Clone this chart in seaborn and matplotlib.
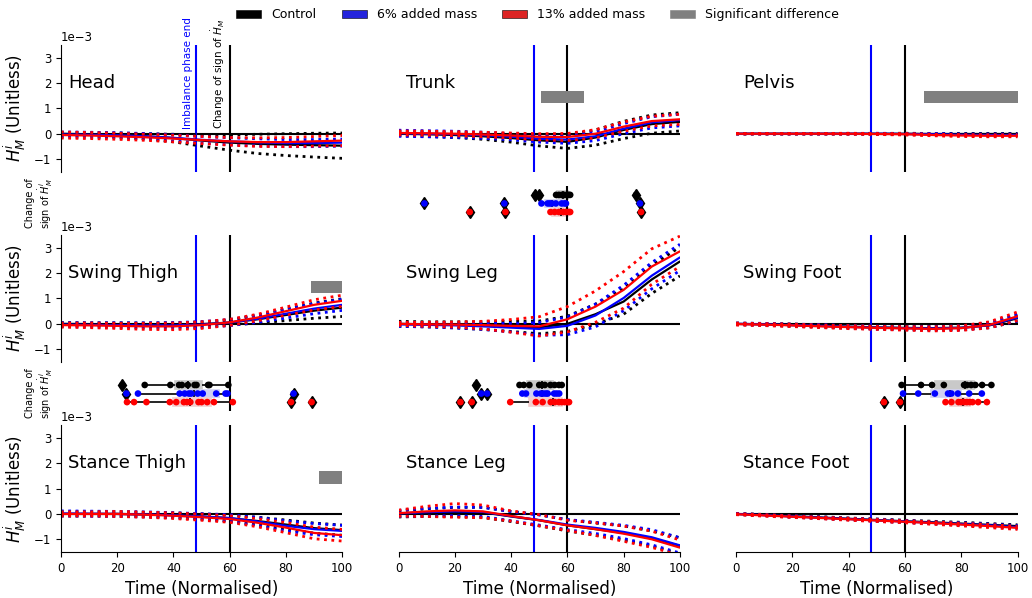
import numpy as np
import pandas as pd
import matplotlib
matplotlib.use("Agg")
import matplotlib.pyplot as plt
from matplotlib.patches import Patch
import seaborn as sns

# -------------------
# DATA  (H values in units of 1e-3, one list per group: Control, 6%, 13%)
# -------------------
time = [0, 10, 20, 30, 40, 50, 60, 70, 80, 90, 100]
groups = ["Control", "6% added mass", "13% added mass"]
colours = ["black", "blue", "red"]
box_colours = ["#c9c9c9", "#d0d0f2", "#f2cfcf"]
legend_colours = ["black", "#2323dd", "#dd2323", "grey"]

panel_names = ["Head", "Trunk", "Pelvis",
               "Swing Thigh", "Swing Leg", "Swing Foot",
               "Stance Thigh", "Stance Leg", "Stance Foot"]

head_mean = [
    [0.00, -0.02, -0.05, -0.10, -0.17, -0.27, -0.35, -0.40, -0.43, -0.45, -0.47],
    [-0.03, -0.04, -0.06, -0.10, -0.16, -0.24, -0.30, -0.34, -0.37, -0.37, -0.35],
    [-0.05, -0.07, -0.10, -0.14, -0.19, -0.25, -0.30, -0.33, -0.33, -0.30, -0.27],
]
head_sd = [
    [0.05, 0.06, 0.08, 0.10, 0.15, 0.22, 0.30, 0.38, 0.43, 0.47, 0.50],
    [0.10, 0.10, 0.10, 0.11, 0.12, 0.13, 0.14, 0.14, 0.14, 0.14, 0.14],
    [0.12, 0.12, 0.12, 0.12, 0.13, 0.14, 0.15, 0.17, 0.18, 0.19, 0.20],
]
trunk_mean = [
    [0.00, -0.02, -0.05, -0.10, -0.17, -0.26, -0.32, -0.15, 0.15, 0.38, 0.47],
    [0.02, 0.00, -0.02, -0.06, -0.12, -0.20, -0.23, -0.10, 0.20, 0.45, 0.54],
    [0.03, 0.02, 0.00, -0.03, -0.07, -0.12, -0.13, 0.00, 0.28, 0.50, 0.57],
]
trunk_sd = [
    [0.08, 0.09, 0.10, 0.12, 0.16, 0.22, 0.26, 0.30, 0.34, 0.36, 0.36],
    [0.12, 0.12, 0.12, 0.12, 0.12, 0.13, 0.15, 0.17, 0.20, 0.22, 0.23],
    [0.08, 0.08, 0.08, 0.09, 0.10, 0.12, 0.14, 0.16, 0.18, 0.19, 0.20],
]
pelvis_mean = [
    [0.00, 0.00, 0.00, 0.00, 0.00, 0.00, 0.00, -0.01, -0.01, -0.01, -0.01],
    [0.00, 0.00, 0.00, 0.00, 0.00, 0.00, -0.01, -0.02, -0.04, -0.05, -0.05],
    [0.00, 0.00, 0.00, 0.00, 0.00, -0.01, -0.02, -0.05, -0.07, -0.08, -0.08],
]
pelvis_sd = [
    [0.01, 0.01, 0.01, 0.01, 0.01, 0.01, 0.02, 0.02, 0.02, 0.02, 0.02],
    [0.01, 0.01, 0.01, 0.01, 0.01, 0.02, 0.02, 0.03, 0.03, 0.04, 0.04],
    [0.01, 0.01, 0.01, 0.01, 0.02, 0.02, 0.03, 0.03, 0.04, 0.04, 0.04],
]
swing_thigh_mean = [
    [0.00, -0.01, -0.02, -0.03, -0.03, -0.01, 0.05, 0.18, 0.35, 0.52, 0.64],
    [-0.03, -0.04, -0.05, -0.06, -0.06, -0.03, 0.05, 0.20, 0.40, 0.60, 0.75],
    [-0.05, -0.06, -0.08, -0.10, -0.10, -0.05, 0.06, 0.25, 0.50, 0.75, 0.91],
]
swing_thigh_sd = [
    [0.05, 0.05, 0.06, 0.06, 0.07, 0.08, 0.10, 0.15, 0.22, 0.30, 0.35],
    [0.08, 0.08, 0.09, 0.10, 0.11, 0.12, 0.12, 0.14, 0.17, 0.20, 0.22],
    [0.08, 0.09, 0.10, 0.12, 0.13, 0.13, 0.12, 0.13, 0.16, 0.20, 0.22],
]
swing_leg_mean = [
    [0.00, -0.02, -0.04, -0.07, -0.10, -0.14, 0.00, 0.38, 0.88, 1.75, 2.46],
    [-0.02, -0.04, -0.06, -0.10, -0.15, -0.20, -0.08, 0.33, 1.02, 1.90, 2.62],
    [0.00, -0.02, -0.03, -0.05, -0.08, -0.10, 0.18, 0.68, 1.34, 2.26, 2.86],
]
swing_leg_sd = [
    [0.10, 0.10, 0.12, 0.15, 0.20, 0.25, 0.30, 0.40, 0.50, 0.55, 0.57],
    [0.08, 0.08, 0.10, 0.12, 0.17, 0.25, 0.35, 0.45, 0.50, 0.52, 0.52],
    [0.06, 0.08, 0.10, 0.15, 0.25, 0.38, 0.50, 0.62, 0.72, 0.70, 0.60],
]
swing_foot_mean = [
    [0.00, -0.02, -0.05, -0.08, -0.11, -0.14, -0.16, -0.17, -0.15, -0.06, 0.22],
    [0.00, -0.02, -0.05, -0.08, -0.12, -0.15, -0.17, -0.18, -0.16, -0.05, 0.25],
    [-0.01, -0.03, -0.06, -0.10, -0.13, -0.16, -0.18, -0.20, -0.17, -0.04, 0.30],
]
swing_foot_sd = [
    [0.03, 0.03, 0.04, 0.04, 0.05, 0.05, 0.06, 0.06, 0.07, 0.09, 0.12],
    [0.03, 0.04, 0.04, 0.05, 0.05, 0.06, 0.06, 0.07, 0.08, 0.10, 0.14],
    [0.04, 0.04, 0.05, 0.05, 0.06, 0.06, 0.07, 0.08, 0.09, 0.12, 0.17],
]
stance_thigh_mean = [
    [0.00, 0.00, 0.00, -0.02, -0.05, -0.10, -0.17, -0.28, -0.42, -0.56, -0.64],
    [0.02, 0.01, 0.00, -0.02, -0.05, -0.10, -0.16, -0.30, -0.47, -0.60, -0.67],
    [0.00, 0.00, 0.00, -0.03, -0.07, -0.13, -0.20, -0.35, -0.54, -0.75, -0.84],
]
stance_thigh_sd = [
    [0.08, 0.08, 0.08, 0.08, 0.09, 0.10, 0.12, 0.15, 0.18, 0.20, 0.20],
    [0.10, 0.10, 0.10, 0.10, 0.10, 0.11, 0.13, 0.16, 0.20, 0.22, 0.22],
    [0.08, 0.08, 0.10, 0.10, 0.11, 0.12, 0.13, 0.16, 0.20, 0.23, 0.23],
]
stance_leg_mean = [
    [0.00, 0.05, 0.08, 0.06, -0.10, -0.25, -0.45, -0.60, -0.75, -0.97, -1.26],
    [0.02, 0.07, 0.10, 0.08, -0.09, -0.24, -0.42, -0.55, -0.71, -0.92, -1.24],
    [0.03, 0.10, 0.14, 0.10, -0.08, -0.25, -0.45, -0.60, -0.78, -1.00, -1.33],
]
stance_leg_sd = [
    [0.12, 0.15, 0.18, 0.20, 0.20, 0.22, 0.22, 0.24, 0.28, 0.30, 0.32],
    [0.12, 0.15, 0.17, 0.18, 0.18, 0.20, 0.20, 0.22, 0.26, 0.30, 0.30],
    [0.12, 0.20, 0.27, 0.25, 0.20, 0.22, 0.20, 0.25, 0.30, 0.32, 0.30],
]
stance_foot_mean = [
    [0.00, -0.04, -0.09, -0.14, -0.19, -0.24, -0.29, -0.33, -0.38, -0.43, -0.48],
    [0.00, -0.05, -0.10, -0.15, -0.20, -0.25, -0.30, -0.35, -0.40, -0.45, -0.52],
    [-0.01, -0.06, -0.11, -0.16, -0.21, -0.26, -0.31, -0.36, -0.42, -0.48, -0.55],
]
stance_foot_sd = [
    [0.02, 0.02, 0.03, 0.03, 0.03, 0.04, 0.04, 0.04, 0.05, 0.05, 0.05],
    [0.02, 0.02, 0.03, 0.03, 0.03, 0.04, 0.04, 0.04, 0.05, 0.05, 0.06],
    [0.02, 0.03, 0.03, 0.03, 0.04, 0.04, 0.04, 0.05, 0.05, 0.06, 0.06],
]

# significant difference windows (time), bar drawn between 1.2 and 1.7 (x1e-3)
sig_start = [None, 50.7, 66.8, 89.0, None, None, 91.8, None, None]
sig_end = [None, 66.0, 100.0, 100.0, None, None, 100.0, None, None]
sig_low, sig_high = 1.2, 1.7

# time of change of sign of dH/dt per trial (Control, 6%, 13%)
trunk_sign = [
    [48.6, 50.0, 56.0, 57.0, 58.0, 59.0, 60.0, 60.5, 61.0, 84.4],
    [9.2, 37.6, 50.8, 53.0, 53.8, 54.5, 55.9, 58.0, 59.0, 59.5, 85.8],
    [25.3, 38.0, 54.0, 55.5, 57.0, 58.5, 59.5, 60.5, 61.0, 86.2],
]
swing_thigh_sign = [
    [21.8, 29.8, 38.9, 42.0, 43.0, 45.1, 47.5, 48.2, 52.3, 52.8, 59.5],
    [23.3, 27.4, 42.2, 44.0, 45.5, 46.3, 48.6, 50.4, 55.2, 58.5, 59.2, 82.7],
    [23.5, 26.0, 30.4, 38.7, 41.0, 43.7, 44.8, 46.0, 48.9, 50.0, 52.0, 54.4, 61.1, 81.8, 89.1],
]
swing_leg_sign = [
    [27.5, 43.0, 44.5, 46.5, 50.0, 51.0, 52.0, 54.0, 55.5, 57.0, 58.0],
    [29.4, 31.5, 44.0, 45.3, 49.0, 50.6, 51.5, 52.4, 53.0, 55.3, 56.2, 57.1],
    [22.0, 26.0, 39.7, 48.8, 51.2, 54.1, 55.5, 57.0, 58.0, 59.0, 60.0, 60.6],
]
swing_foot_sign = [
    [58.8, 65.7, 69.6, 73.8, 81.0, 82.0, 83.5, 85.0, 87.4, 90.7],
    [59.3, 64.7, 70.6, 75.3, 76.5, 78.8, 82.8, 87.3],
    [52.5, 58.2, 74.4, 76.5, 79.0, 80.0, 81.0, 82.0, 83.0, 84.0, 86.0, 89.1],
]

panel_mean = [head_mean, trunk_mean, pelvis_mean,
              swing_thigh_mean, swing_leg_mean, swing_foot_mean,
              stance_thigh_mean, stance_leg_mean, stance_foot_mean]
panel_sd = [head_sd, trunk_sd, pelvis_sd,
            swing_thigh_sd, swing_leg_sd, swing_foot_sd,
            stance_thigh_sd, stance_leg_sd, stance_foot_sd]
sign_data = [[None, trunk_sign, None],
             [swing_thigh_sign, swing_leg_sign, swing_foot_sign]]

SCALE = 1e-3

# -------------------
# FIGURE
# -------------------
sns.set_style("ticks")
plt.rcParams["font.family"] = ["DejaVu Sans"]
plt.rcParams.update({"text.color": "black", "axes.labelcolor": "black",
                     "xtick.color": "black", "ytick.color": "black",
                     "axes.edgecolor": "black"})

fig = plt.figure(figsize=(10.32, 5.98), dpi=100)
gs = fig.add_gridspec(5, 3, height_ratios=[2, 1, 2, 1, 2], hspace=0, wspace=0.2,
                      left=0.059, right=0.986, top=0.9247, bottom=0.077)

for r in range(3):
    for c in range(3):
        k = 3 * r + c
        ax = fig.add_subplot(gs[2 * r, c])
        ax.axhline(0, color="black", lw=1.5, zorder=1)
        ax.axvline(48, color="blue", lw=1.5, zorder=1)
        ax.axvline(60, color="black", lw=1.5, zorder=1)

        for g in range(3):
            m = np.array(panel_mean[k][g]) * SCALE
            s = np.array(panel_sd[k][g]) * SCALE
            sns.lineplot(x=time, y=m, color=colours[g], lw=1.6, ax=ax)
            sns.lineplot(x=time, y=m + s, color=colours[g], lw=2.0, ls=":", ax=ax)
            sns.lineplot(x=time, y=m - s, color=colours[g], lw=2.0, ls=":", ax=ax)

        if sig_start[k] is not None:
            ax.fill_between([sig_start[k], sig_end[k]], sig_low * SCALE, sig_high * SCALE,
                            color="grey", lw=0)

        ax.text(0.025, 0.7, panel_names[k], transform=ax.transAxes,
                fontsize=13, va="center", ha="left")

        ax.set_xlim(0, 100)
        ax.set_ylim(-1.5 * SCALE, 3.5 * SCALE)
        ax.set_yticks(np.array([-1, 0, 1, 2, 3]) * SCALE)
        ax.ticklabel_format(axis="y", style="sci", scilimits=(0, 0))
        ax.tick_params(labelsize=8.5)
        ax.spines["top"].set_visible(False)
        ax.spines["right"].set_visible(False)

        if c == 0:
            ax.set_ylabel(r"$H^i_M$ (Unitless)", fontsize=12)
            ax.yaxis.get_offset_text().set_fontsize(8.5)
        else:
            ax.spines["left"].set_visible(False)
            ax.set_yticks([])
            ax.set_ylabel("")

        if r == 2:
            ax.set_xticks([0, 20, 40, 60, 80, 100])
            ax.set_xlabel("Time (Normalised)", fontsize=12)
        else:
            ax.spines["bottom"].set_visible(False)
            ax.set_xticks([])
            ax.set_xlabel("")

        if k == 0:
            ax.text(47, 0.2 * SCALE, "Imbalance phase end", color="blue",
                    rotation=90, ha="right", va="bottom", fontsize=7.5)
            ax.text(59, 0.2 * SCALE, r"Change of sign of $\dot{H}_M$", color="black",
                    rotation=90, ha="right", va="bottom", fontsize=7.5)

# -------------------
# CHANGE OF SIGN PANELS
# -------------------
for r in range(2):
    for c in range(3):
        ax = fig.add_subplot(gs[2 * r + 1, c])
        vals = sign_data[r][c]
        if vals is not None:
            df = pd.DataFrame({
                "time": [v for g in range(3) for v in vals[g]],
                "group": [groups[g] for g in range(3) for _ in vals[g]],
            })
            sns.boxplot(data=df, x="time", y="group", hue="group", order=groups,
                        hue_order=groups, palette=box_colours, saturation=1, width=0.9,
                        linecolor="black", linewidth=1.2, fliersize=6,
                        flierprops={"marker": "d", "markerfacecolor": "black"},
                        legend=False, ax=ax)
            for p in ax.patches:
                p.set_edgecolor(p.get_facecolor())
            sns.stripplot(data=df, x="time", y="group", hue="group", order=groups,
                          hue_order=groups, palette=colours, jitter=False, size=4.8,
                          legend=False, ax=ax)
            ax.vlines(60, -1, 3, color="black", lw=1.5)
        ax.set_xlim(0, 100)
        ax.set_ylim(4.7, -2.7)
        ax.set_xticks([])
        ax.set_yticks([])
        ax.set_xlabel("")
        ax.set_ylabel("")
        for sp in ax.spines.values():
            sp.set_visible(False)
        if c == 0:
            ax.set_ylabel("Change of\nsign of $\\dot{H}^i_M$", fontsize=7)
        ax.patch.set_alpha(0)

# -------------------
# LEGEND
# -------------------
handles = [Patch(facecolor=col, edgecolor="black" if col != "grey" else "grey", lw=0.4)
           for col in legend_colours]
labels = groups + ["Significant difference"]
fig.legend(handles, labels, loc="upper center", bbox_to_anchor=(0.521, 1.005),
           ncol=4, frameon=False, fontsize=9)

fig.savefig("out.png", dpi=100)
